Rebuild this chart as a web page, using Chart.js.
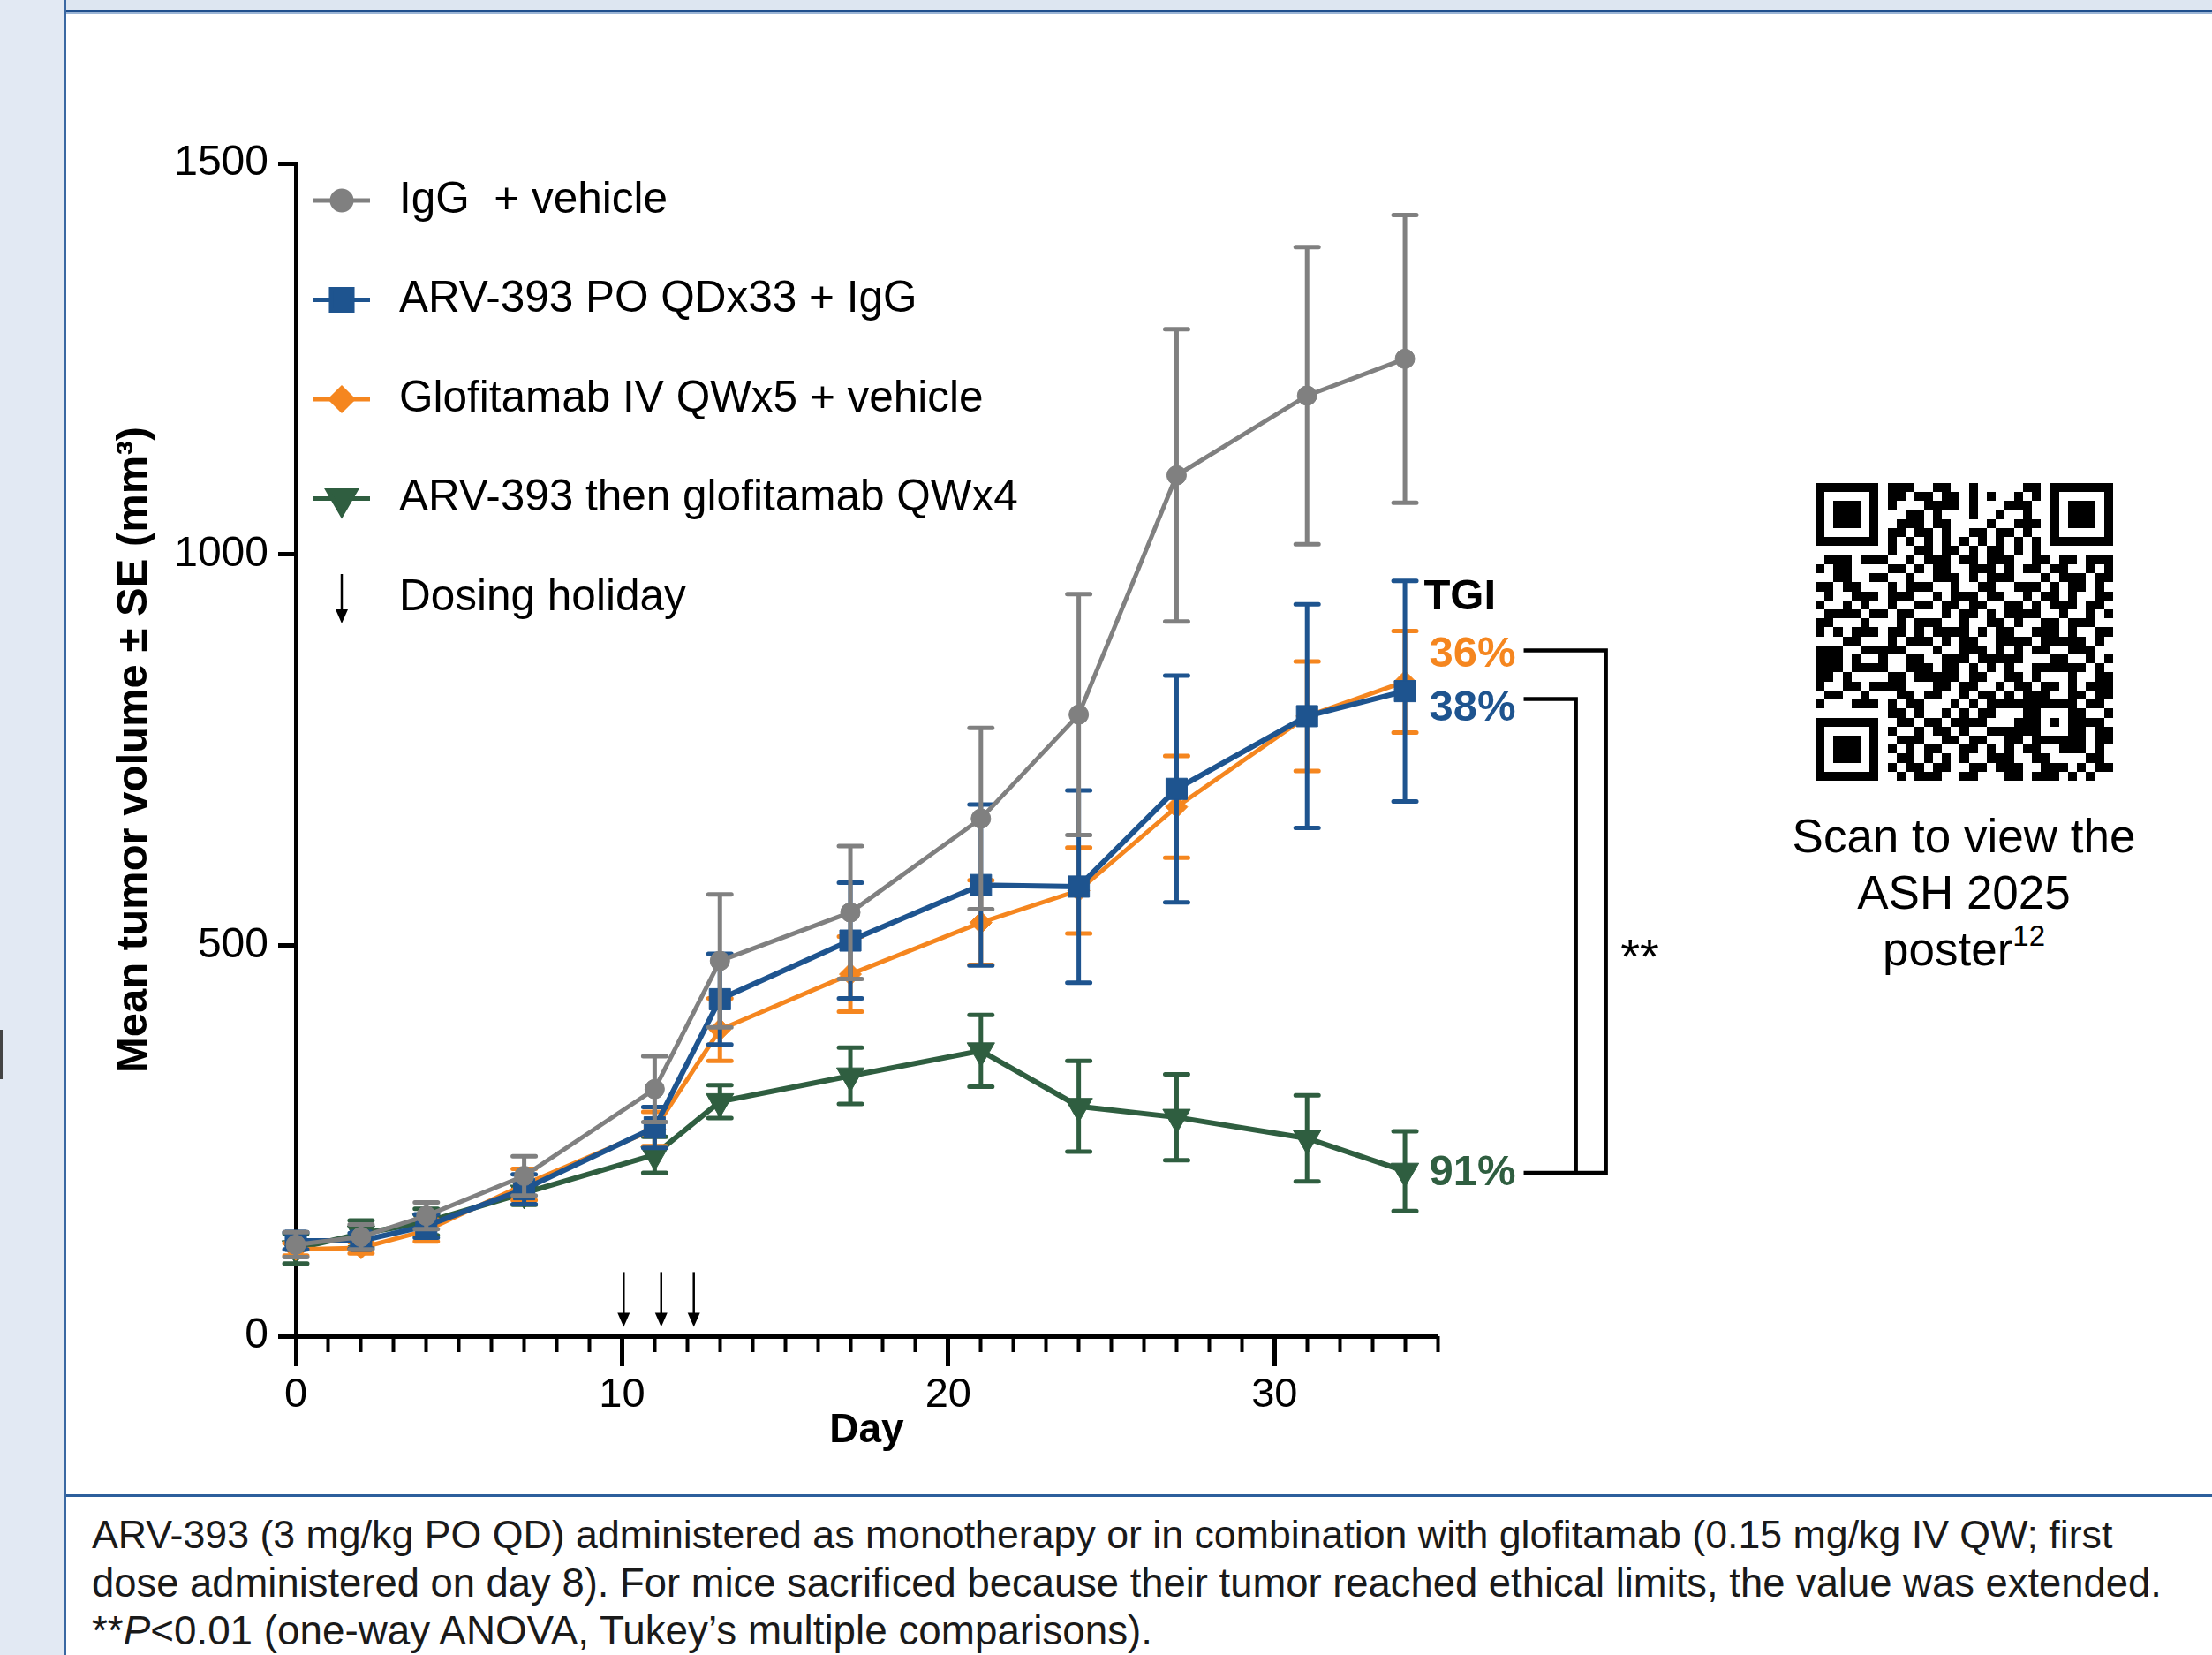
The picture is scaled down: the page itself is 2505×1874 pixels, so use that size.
<!DOCTYPE html>
<html>
<head>
<meta charset="utf-8">
<title>Mean tumor volume</title>
<script src="https://cdn.jsdelivr.net/npm/chart.js@4.4.1/dist/chart.umd.min.js"></script>
<style>
	html, body { margin: 0; padding: 0; }
	body {
		position: relative; width: 2505px; height: 1874px; overflow: hidden; background: #fff;
		font-family: "Liberation Sans", Arial, sans-serif; color: #000;
	}
	.left-strip { position: absolute; left: 0; top: 0; width: 72px; height: 1874px; background: #e2e9f3; }
	.left-line { position: absolute; left: 72px; top: 0; width: 3px; height: 1874px; background: #3a68a2; }
	.top-strip { position: absolute; left: 75px; top: 0; width: 2430px; height: 11px; background: #dde6f1; }
	.top-line { position: absolute; left: 75px; top: 11px; width: 2430px; height: 3px; background: #1f4f8d; }
	.top-line2 { position: absolute; left: 75px; top: 14px; width: 2430px; height: 2px; background: #9bb5d6; }
	.cap-line { position: absolute; left: 75px; top: 1692px; width: 2430px; height: 3px; background: #2d5f9c; }
	.edge-mark { position: absolute; left: 0; top: 1166px; width: 3px; height: 56px; background: #444; }
	#chart { position: absolute; left: 0; top: 0; }
	#qr { position: absolute; left: 2056px; top: 547px; }
	.qr-text {
		position: absolute; left: 2024px; top: 915px; width: 400px; text-align: center;
		font-size: 53px; line-height: 64px;
	}
	.qr-text sup { font-size: 33px; line-height: 0; vertical-align: 22px; }
	.caption {
		position: absolute; left: 104px; top: 1711px; font-size: 44.7px; line-height: 54.5px;
		white-space: nowrap; color: #1a1a1a;
	}
	.caption .l2 { font-size: 45.4px; }
	.caption .l3 { font-size: 45.8px; }
</style>
</head>
<body>
<div class="left-strip"></div>
<div class="top-strip"></div>
<div class="top-line"></div>
<div class="top-line2"></div>
<div class="left-line"></div>
<div class="edge-mark"></div>
<div class="cap-line"></div>

<canvas id="chart" width="2000" height="1690"></canvas>

<canvas id="qr" width="337" height="337"></canvas>
<div class="qr-text">Scan to view the<br>ASH 2025<br>poster<sup>12</sup></div>

<div class="caption"><span class="l1">ARV-393 (3 mg/kg PO QD) administered as monotherapy or in combination with glofitamab (0.15 mg/kg IV QW; first</span><br><span class="l2">dose administered on day 8). For mice sacrificed because their tumor reached ethical limits, the value was extended.</span><br><span class="l3">**<i>P</i>&lt;0.01 (one-way ANOVA, Tukey’s multiple comparisons).</span></div>

<script>
// ---------------- data ----------------
const days = [0, 2, 4, 7, 11, 13, 17, 21, 24, 27, 31, 34];

const igg_vehicle_mean = [117, 127, 154, 205, 316, 480, 542, 662, 795, 1101, 1203, 1250];
const igg_vehicle_se = [16, 16, 17, 25, 42, 85, 85, 116, 154, 187, 190, 184];

const arv_igg_mean = [122, 122, 141, 188, 267, 431, 506, 577, 575, 700, 793, 825];
const arv_igg_se = [11, 10, 15, 19, 26, 58, 74, 103, 123, 145, 143, 141];

const glof_vehicle_mean = [111, 113, 135, 194, 265, 392, 463, 529, 570, 677, 793, 837];
const glof_vehicle_se = [8, 7, 14, 20, 22, 40, 48, 54, 55, 65, 70, 65];

const arv_then_glof_mean = [112, 131, 146, 183, 232, 300, 333, 365, 294, 280, 253, 211];
const arv_then_glof_se = [19, 17, 17, 15, 23, 21, 36, 46, 58, 55, 55, 51];

const series_names = [
	"IgG  + vehicle",
	"ARV-393 PO QDx33 + IgG",
	"Glofitamab IV QWx5 + vehicle",
	"ARV-393 then glofitamab QWx4",
];
const x_tick_values = [0, 10, 20, 30];
const x_minor_ticks = [0, 1, 2, 3, 4, 5, 6, 7, 8, 9, 10, 11, 12, 13, 14, 15, 16, 17,
	18, 19, 20, 21, 22, 23, 24, 25, 26, 27, 28, 29, 30, 31, 32, 33, 34, 35];
const y_tick_values = [0, 500, 1000, 1500];
const holiday_days = [10.05, 11.2, 12.2];
const tgi_labels = ["36%", "38%", "91%"];

// ---------------- styling ----------------
const FONT = '"Liberation Sans", Arial, sans-serif';
const GRAY = "#808080";
const BLUE = "#1e548f";
const ORANGE = "#f5861f";
const GREEN = "#2f5e40";

// where the annotations sit, in axis units (day, mm3)
const notes = {
	text_day: 34.74,
	tgi_y: 945,
	pct_y: [872, 803, 208],
	pct_colors: [ORANGE, BLUE, GREEN],
	bracket_start: 37.64,
	bracket_outer: 40.16,
	bracket_inner: 39.24,
	bracket_outer_top: 877,
	bracket_inner_top: 815,
	bracket_bottom: 209,
	stars_day: 41.2,
	stars_y: 491,
	holiday_top: 82,
	holiday_bottom: 12,
};

function to_points(values) {
	return days.map((d, i) => ({ x: d, y: values[i] }));
}

function make_dataset(label, mean, se, color, style, radius, width, rotation) {
	return {
		label: label,
		data: to_points(mean),
		se: se,
		borderColor: color,
		backgroundColor: color,
		borderWidth: width,
		pointStyle: style,
		pointRadius: radius,
		pointRotation: rotation || 0,
		pointBorderWidth: 1,
		pointBorderColor: color,
		pointBackgroundColor: color,
		tension: 0,
		clip: false,
	};
}

// error bars are drawn just under each series so the layering follows the series order
const error_bars = {
	id: "error_bars",
	beforeDatasetDraw(chart, args) {
		const ds = chart.data.datasets[args.index];
		const x = chart.scales.x;
		const y = chart.scales.y;
		const ctx = chart.ctx;
		ctx.save();
		ctx.strokeStyle = ds.borderColor;
		ctx.lineWidth = 5;
		ctx.lineCap = "round";
		for (let i = 0; i < ds.data.length; i++) {
			const px = x.getPixelForValue(ds.data[i].x);
			const top = y.getPixelForValue(ds.data[i].y + ds.se[i]);
			const bot = y.getPixelForValue(ds.data[i].y - ds.se[i]);
			ctx.beginPath();
			ctx.moveTo(px, top);
			ctx.lineTo(px, bot);
			ctx.moveTo(px - 13, top);
			ctx.lineTo(px + 13, top);
			ctx.moveTo(px - 13, bot);
			ctx.lineTo(px + 13, bot);
			ctx.stroke();
		}
		ctx.restore();
	},
};

function down_arrow(ctx, x, y1, y2) {
	ctx.beginPath();
	ctx.moveTo(x, y1);
	ctx.lineTo(x, y2 - 14);
	ctx.stroke();
	ctx.beginPath();
	ctx.moveTo(x - 7, y2 - 16);
	ctx.lineTo(x + 7, y2 - 16);
	ctx.lineTo(x, y2);
	ctx.closePath();
	ctx.fill();
}

const chart_notes = {
	id: "chart_notes",
	afterDraw(chart) {
		const ctx = chart.ctx;
		const area = chart.chartArea;
		const x = chart.scales.x;
		const y = chart.scales.y;
		ctx.save();

		// legend inside the plot
		const line_x0 = area.left + 20;
		const line_x1 = area.left + 84;
		const text_x = area.left + 117;
		const row_y0 = area.top + 42;
		const row_step = 112.5;
		ctx.font = "49.5px " + FONT;
		ctx.textBaseline = "middle";
		ctx.textAlign = "left";
		chart.data.datasets.forEach((ds, i) => {
			const ry = row_y0 + i * row_step;
			ctx.strokeStyle = ds.borderColor;
			ctx.fillStyle = ds.borderColor;
			ctx.lineWidth = 5;
			ctx.beginPath();
			ctx.moveTo(line_x0, ry);
			ctx.lineTo(line_x1, ry);
			ctx.stroke();
			Chart.helpers.drawPoint(ctx, {
				pointStyle: ds.pointStyle,
				radius: ds.pointRadius,
				rotation: ds.pointRotation,
				borderWidth: 1,
			}, (line_x0 + line_x1) / 2, ry);
			ctx.fillStyle = "#000";
			ctx.fillText(ds.label, text_x, ry);
		});
		const hy = row_y0 + 4 * row_step;
		ctx.strokeStyle = "#000";
		ctx.fillStyle = "#000";
		ctx.lineWidth = 2.5;
		down_arrow(ctx, (line_x0 + line_x1) / 2, hy - 27, hy + 29);
		ctx.fillText("Dosing holiday", text_x, hy);

		// dosing holiday arrows on the day axis
		holiday_days.forEach((d) => {
			down_arrow(ctx, x.getPixelForValue(d), y.getPixelForValue(notes.holiday_top),
				y.getPixelForValue(notes.holiday_bottom));
		});

		// TGI labels
		const tx = x.getPixelForValue(notes.text_day);
		ctx.font = "bold 49px " + FONT;
		ctx.fillStyle = "#000";
		ctx.fillText("TGI", tx - 6, y.getPixelForValue(notes.tgi_y));
		tgi_labels.forEach((t, i) => {
			ctx.fillStyle = notes.pct_colors[i];
			ctx.fillText(t, tx, y.getPixelForValue(notes.pct_y[i]));
		});

		// significance brackets
		const bx0 = x.getPixelForValue(notes.bracket_start);
		const bxo = x.getPixelForValue(notes.bracket_outer);
		const bxi = x.getPixelForValue(notes.bracket_inner);
		const by_bot = y.getPixelForValue(notes.bracket_bottom);
		ctx.strokeStyle = "#000";
		ctx.lineWidth = 4.5;
		ctx.lineJoin = "miter";
		ctx.beginPath();
		ctx.moveTo(bx0, y.getPixelForValue(notes.bracket_outer_top));
		ctx.lineTo(bxo, y.getPixelForValue(notes.bracket_outer_top));
		ctx.lineTo(bxo, by_bot);
		ctx.lineTo(bx0, by_bot);
		ctx.stroke();
		ctx.beginPath();
		ctx.moveTo(bx0, y.getPixelForValue(notes.bracket_inner_top));
		ctx.lineTo(bxi, y.getPixelForValue(notes.bracket_inner_top));
		ctx.lineTo(bxi, by_bot);
		ctx.stroke();

		ctx.font = "56px " + FONT;
		ctx.fillStyle = "#000";
		ctx.textAlign = "center";
		ctx.fillText("**", x.getPixelForValue(notes.stars_day), y.getPixelForValue(notes.stars_y) + 8);

		ctx.restore();
	},
};

Chart.defaults.font.family = FONT;
Chart.defaults.color = "#000";

const ctx = document.getElementById("chart").getContext("2d");
const tumor_chart = new Chart(ctx, {
	type: "line",
	data: {
		datasets: [
			make_dataset(series_names[0], igg_vehicle_mean, igg_vehicle_se, GRAY, "circle", 11, 5),
			make_dataset(series_names[1], arv_igg_mean, arv_igg_se, BLUE, "rect", 17, 6),
			make_dataset(series_names[2], glof_vehicle_mean, glof_vehicle_se, ORANGE, "rectRot", 12.5, 5),
			make_dataset(series_names[3], arv_then_glof_mean, arv_then_glof_se, GREEN, "triangle", 18, 6, 180),
		],
	},
	options: {
		responsive: false,
		animation: false,
		devicePixelRatio: 1,
		layout: { padding: { left: 80, top: 185, right: 372, bottom: 27 } },
		plugins: { legend: { display: false }, tooltip: { enabled: false } },
		scales: {
			x: {
				type: "linear",
				min: 0,
				max: 35,
				afterBuildTicks: (s) => { s.ticks = x_tick_values.map((v) => ({ value: v })); },
				afterFit: (s) => { s.height = 150; },
				grid: { drawOnChartArea: false, tickLength: 34, tickWidth: 5, tickColor: "#000" },
				border: { display: true, width: 5, color: "#000" },
				ticks: {
					font: { size: 47 }, padding: 5, maxRotation: 0, autoSkip: false,
					callback: (v) => String(v),
				},
				title: {
					display: true, text: "Day",
					font: { size: 46, weight: "bold" }, padding: { top: 0, bottom: 15 },
				},
			},
			x_minor: {
				type: "linear",
				axis: "x",
				position: { y: 0 },
				min: 0,
				max: 35,
				afterBuildTicks: (s) => { s.ticks = x_minor_ticks.map((v) => ({ value: v })); },
				grid: { drawOnChartArea: false, tickLength: 18, tickWidth: 4, tickColor: "#000" },
				border: { display: false },
				ticks: { display: false },
			},
			y: {
				type: "linear",
				min: 0,
				max: 1500,
				afterBuildTicks: (s) => { s.ticks = y_tick_values.map((v) => ({ value: v })); },
				afterFit: (s) => { s.width = 255; },
				grid: { drawOnChartArea: false, tickLength: 20, tickWidth: 5, tickColor: "#000" },
				border: { display: true, width: 5, color: "#000" },
				ticks: { font: { size: 48 }, padding: 11, callback: (v) => String(v) },
				title: {
					display: true, text: "Mean tumor volume ± SE (mm³)",
					font: { size: 49, weight: "bold" }, padding: { top: 43, bottom: 0 },
				},
			},
		},
	},
	plugins: [error_bars, chart_notes],
});

// ---------------- QR code picture ----------------
const qr_rows = [
	"111111101110011001000001101111111",
	"100000101101101101010010101000001",
	"101110101000111101000111001011101",
	"101110100011010001001001001011101",
	"101110100111011000010011101011101",
	"100000101101101001101101001000001",
	"111111101010101010101010101111111",
	"000000001001101101011010100000000",
	"011101110010111011011100110110111",
	"101100001101011001110101101100101",
	"001100110010011101011100010111011",
	"110110001011100100110011101011010",
	"010011101110010111011001011010011",
	"100101001001101101100110101110110",
	"011110110110001011010111100100101",
	"110001000101110010011010011011100",
	"101011101101011110101100111010011",
	"000110001011101011001111011111010",
	"111001111100010011101010110011100",
	"111010010011001110111110001100101",
	"111011110011101101010100111111010",
	"110100001101111101100110100010011",
	"100110111100011011001011011010111",
	"011001000110110010110101110011011",
	"100011101011000101011111111110110",
	"000000001101001010110001101011001",
	"111111100110110111100011101101110",
	"100000101001011010011111100101011",
	"101110100111001101100110111111011",
	"101110101010110011010101100111010",
	"101110100110101010011100110000110",
	"100000101011011001101110011101011",
	"111111100101110011000110111010100",
];

function draw_qr() {
	const n = qr_rows.length;
	const grid = qr_rows.map((r) => r.split("").map((c) => c === "1"));
	// fixed QR structures over the read modules
	function finder(r0, c0) {
		for (let r = -1; r <= 7; r++) {
			for (let c = -1; c <= 7; c++) {
				const rr = r0 + r, cc = c0 + c;
				if (rr < 0 || cc < 0 || rr >= n || cc >= n) continue;
				const ring = Math.max(Math.abs(r - 3), Math.abs(c - 3));
				grid[rr][cc] = ring === 3 || ring <= 1;
			}
		}
	}
	finder(0, 0);
	finder(0, n - 7);
	finder(n - 7, 0);
	for (let i = 8; i < n - 8; i++) {
		grid[6][i] = i % 2 === 0;
		grid[i][6] = i % 2 === 0;
	}
	for (let r = -2; r <= 2; r++) {
		for (let c = -2; c <= 2; c++) {
			const ring = Math.max(Math.abs(r), Math.abs(c));
			grid[26 + r][26 + c] = ring !== 1;
		}
	}
	const canvas = document.getElementById("qr");
	const qctx = canvas.getContext("2d");
	const m = canvas.width / n;
	qctx.fillStyle = "#000";
	for (let r = 0; r < n; r++) {
		for (let c = 0; c < n; c++) {
			if (!grid[r][c]) continue;
			const x0 = Math.round(c * m), x1 = Math.round((c + 1) * m);
			const y0 = Math.round(r * m), y1 = Math.round((r + 1) * m);
			qctx.fillRect(x0, y0, x1 - x0, y1 - y0);
		}
	}
}
draw_qr();
</script>
</body>
</html>
